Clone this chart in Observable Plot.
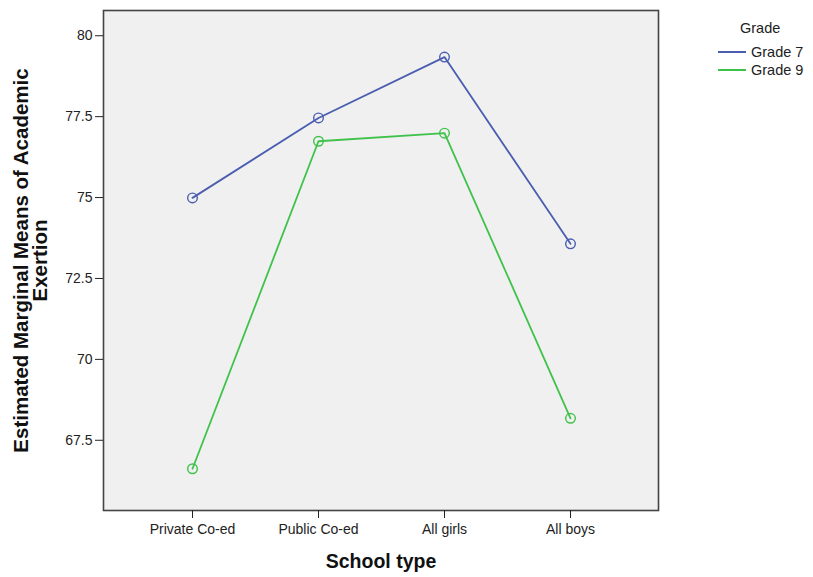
<!DOCTYPE html>
<html>
<head>
<meta charset="utf-8">
<script src="https://cdn.jsdelivr.net/npm/d3@7"></script>
<script src="https://cdn.jsdelivr.net/npm/@observablehq/plot@0.6"></script>
<style>
  html, body { margin: 0; padding: 0; background: #fff; }
  #wrap { position: relative; width: 813px; height: 577px; font-family: "Liberation Sans", Arial, sans-serif; }
  #legend { position: absolute; left: 718px; top: 20px; font-size: 14.5px; color: #222; }
  #legend .title { margin-left: 22px; margin-bottom: 7px; }
  #legend .row { display: flex; align-items: center; height: 18px; }
  #legend .sw { width: 28px; height: 2px; margin-right: 5px; }
</style>
</head>
<body>
<div id="wrap">
  <div id="chart"></div>
  <div id="legend"></div>
</div>
<script>
const schoolTypes = ["Private Co-ed", "Public Co-ed", "All girls", "All boys"];
const grades = ["Grade 7", "Grade 9"];
const grade7 = [74.99, 77.46, 79.34, 73.57];
const grade9 = [66.62, 76.74, 76.99, 68.18];
const yTicks = [67.5, 70, 72.5, 75, 77.5, 80];
const colors = ["#4a5db0", "#3fc24a"];

const data = [];
schoolTypes.forEach((s, i) => {
  data.push({school: s, grade: grades[0], value: grade7[i]});
  data.push({school: s, grade: grades[1], value: grade9[i]});
});

const chart = Plot.plot({
  width: 813,
  height: 577,
  marginLeft: 103,
  marginRight: 155,
  marginTop: 10,
  marginBottom: 67,
  style: {fontFamily: "'Liberation Sans', Arial, sans-serif", background: "white"},
  x: {type: "point", domain: schoolTypes, padding: 0.7, label: null},
  y: {domain: [65.33, 80.78], label: null},
  color: {domain: grades, range: colors},
  marks: [
    Plot.frame({fill: "#f0f0f0", stroke: "none"}),
    Plot.line(data, {x: "school", y: "value", stroke: "grade", strokeWidth: 1.8}),
    Plot.dot(data, {x: "school", y: "value", stroke: "grade", r: 4.8, strokeWidth: 1.4}),
    Plot.frame({stroke: "#444", strokeWidth: 1.6}),
    Plot.axisY({ticks: yTicks, tickFormat: d => String(d), tickSize: 8, tickPadding: 3, fontSize: 14, color: "#222", label: null}),
    Plot.axisX({tickSize: 8, tickPadding: 6, fontSize: 14, color: "#222", label: null}),
    Plot.text(["Estimated Marginal Means of Academic\nExertion"], {frameAnchor: "left", textAnchor: "middle", rotate: -90, dx: -72, fontSize: 20.5, fontWeight: "bold", fill: "#111", lineHeight: 0.9}),
    Plot.text(["School type"], {frameAnchor: "bottom", dy: 57, fontSize: 19.5, fontWeight: "bold", fill: "#111"})
  ]
});
document.getElementById("chart").appendChild(chart);

const legend = document.getElementById("legend");
let html = '<div class="title">Grade</div>';
grades.forEach((g, i) => {
  html += `<div class="row"><div class="sw" style="background:${colors[i]}"></div><span>${g}</span></div>`;
});
legend.innerHTML = html;
</script>
</body>
</html>
